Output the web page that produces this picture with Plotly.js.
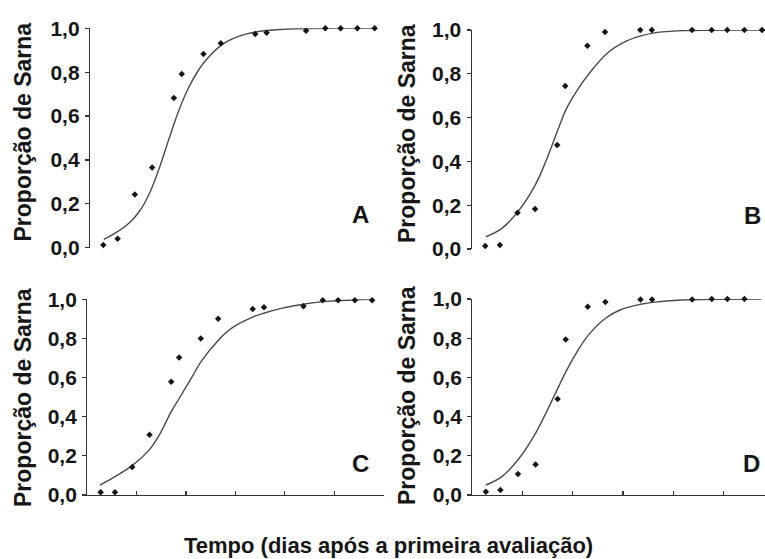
<!DOCTYPE html>
<html>
<head>
<meta charset="utf-8">
<script src="https://cdn.plot.ly/plotly-3.0.1.min.js"></script>
<style>html,body{margin:0;padding:0;background:#fff;}#chart{width:765px;height:559px;}</style>
</head>
<body>
<div id="chart"></div>
<script>
// Sampling times (days after first assessment)
const days = [2.7, 5.6, 9.1, 12.6, 17.0, 18.6, 23.0, 26.5, 33.5, 35.8, 43.8, 47.7, 50.8, 54.2, 57.7];
// Observed proportions of scab
const propA = [0.012, 0.041, 0.243, 0.366, 0.682, 0.792, 0.883, 0.932, 0.974, 0.980, 0.989, 1.0, 1.0, 1.0, 1.0];
const propB = [0.014, 0.018, 0.166, 0.183, 0.475, 0.744, 0.928, 0.991, 1.0, 1.0, 1.0, 1.0, 1.0, 1.0, 1.0];
const propC = [0.014, 0.014, 0.143, 0.308, 0.579, 0.702, 0.800, 0.900, 0.950, 0.959, 0.965, 0.995, 0.995, 0.995, 0.995];
const propD = [0.017, 0.026, 0.107, 0.156, 0.490, 0.793, 0.961, 0.985, 0.997, 0.997, 0.997, 1.0, 1.0, 1.0];
// Fitted curves
const curveDaysA = [2.8, 5, 8, 10, 12, 14, 16, 18, 20, 22, 24, 26, 28, 32, 36, 42, 50, 57.8];
const curveA = [0.038, 0.065, 0.114, 0.165, 0.245, 0.36, 0.495, 0.625, 0.73, 0.81, 0.868, 0.912, 0.943, 0.976, 0.99, 0.998, 1.0, 1.0];
const curveDaysB = [2.85, 6, 9.5, 12.8, 14.9, 17.4, 18.7, 20.9, 23.3, 27, 30.8, 33.8, 36.3, 41.8, 57.7];
const curveB = [0.056, 0.094, 0.18, 0.30, 0.41, 0.56, 0.635, 0.722, 0.80, 0.895, 0.95, 0.974, 0.987, 0.997, 1.0];
const curveDaysC = [2.55, 5.6, 9.1, 12.6, 14.6, 17, 18.7, 21.3, 23, 26.5, 29.4, 33.6, 35.9, 39.5, 43.8, 47.7, 57.7];
const curveC = [0.051, 0.094, 0.15, 0.232, 0.307, 0.426, 0.497, 0.607, 0.68, 0.79, 0.855, 0.91, 0.93, 0.955, 0.975, 0.988, 1.0];
const curveDaysD = [2.7, 5.9, 9.3, 12.7, 14.8, 17.1, 18.7, 20.8, 23.2, 26.6, 29.4, 33.5, 35.9, 41.6, 57.6];
const curveD = [0.051, 0.094, 0.186, 0.32, 0.425, 0.548, 0.632, 0.728, 0.818, 0.903, 0.944, 0.973, 0.983, 0.995, 1.0];
const yTicks = [0, 0.2, 0.4, 0.6, 0.8, 1.0];
const xTicks = [10, 20, 30, 40, 50, 60];
const panelLetters = ['A', 'B', 'C', 'D'];
const yTitle = 'Proporção de Sarna';
const xTitle = 'Tempo (dias após a primeira avaliação)';

const W = 765, H = 559;
const px = v => v / W;
const py = v => 1 - v / H;
const FONT = 'Liberation Sans, Arial, Helvetica, sans-serif';
const txt = '#161616';
const axc = '#333';

const panels = [
  {obsX: days, obsY: propA, cx: curveDaysA, cy: curveA, xd: [px(90), px(386)], xr: [0, 60], yd: [py(247.7), py(28.3)], xline: false},
  {obsX: days, obsY: propB, cx: curveDaysB, cy: curveB, xd: [px(471.7), 1], xr: [0, 58.3], yd: [py(249), py(30)], xline: false},
  {obsX: days, obsY: propC, cx: curveDaysC, cy: curveC, xd: [px(87.3), px(383.5)], xr: [0, 60], yd: [py(495), py(299.3)], xline: true},
  {obsX: days.slice(0, propD.length), obsY: propD, cx: curveDaysD, cy: curveD, xd: [px(472.3), 1], xr: [0, 58.3], yd: [py(495), py(299)], xline: true}
];

const traces = [];
const layout = {
  width: W, height: H,
  margin: {l: 0, r: 0, t: 0, b: 0},
  paper_bgcolor: '#fff', plot_bgcolor: '#fff',
  showlegend: false,
  separators: ',.',
  font: {family: FONT, color: txt},
  annotations: []
};

panels.forEach((p, i) => {
  const n = i === 0 ? '' : String(i + 1);
  const xa = 'x' + n, ya = 'y' + n;
  traces.push({
    x: p.cx, y: p.cy, xaxis: xa, yaxis: ya, type: 'scatter', mode: 'lines',
    line: {color: '#4a4a4a', width: 1.4, shape: 'spline', smoothing: 1},
    cliponaxis: false, hoverinfo: 'skip'
  });
  traces.push({
    x: p.obsX, y: p.obsY, xaxis: xa, yaxis: ya, type: 'scatter', mode: 'markers',
    marker: {symbol: 'diamond', size: 5, color: '#151515'},
    cliponaxis: false
  });
  layout['xaxis' + n] = {
    domain: p.xd, range: p.xr, anchor: ya,
    showgrid: false, zeroline: false,
    showline: p.xline, linecolor: axc, linewidth: 1.2,
    ticks: p.xline ? 'inside' : '', ticklen: 4, tickcolor: axc, tickwidth: 1.2,
    tickmode: 'array', tickvals: p.xline ? xTicks : [],
    showticklabels: false
  };
  layout['yaxis' + n] = {
    domain: p.yd, range: [0, 1], anchor: xa,
    showgrid: false, zeroline: false,
    showline: true, linecolor: axc, linewidth: 1.2,
    ticks: 'outside', ticklen: 4, tickcolor: axc, tickwidth: 1.2,
    tickmode: 'array', tickvals: yTicks, tickformat: '.1f',
    ticklabelstandoff: 1,
    tickfont: {family: FONT, size: 21, weight: 'bold', color: txt}
  };
});

const yTitlePos = [[23, 132.5], [407, 134], [23, 398], [407, 396]];
yTitlePos.forEach(([x, y]) => {
  layout.annotations.push({
    xref: 'paper', yref: 'paper', x: px(x), y: py(y), xanchor: 'center', yanchor: 'middle',
    text: yTitle, textangle: -90, showarrow: false,
    font: {family: FONT, size: 23, weight: 'bold', color: txt}
  });
});
const letterPos = [[360.5, 214], [752.5, 215.5], [360.5, 463], [751.5, 463.5]];
letterPos.forEach(([x, y], i) => {
  layout.annotations.push({
    xref: 'paper', yref: 'paper', x: px(x), y: py(y), xanchor: 'center', yanchor: 'middle',
    text: panelLetters[i], showarrow: false,
    font: {family: FONT, size: 24, weight: 'bold', color: txt}
  });
});
layout.annotations.push({
  xref: 'paper', yref: 'paper', x: px(388.5), y: py(545.5), xanchor: 'center', yanchor: 'middle',
  text: xTitle, showarrow: false,
  font: {family: FONT, size: 22, weight: 'bold', color: txt}
});

Plotly.newPlot('chart', traces, layout, {staticPlot: true, displayModeBar: false});
</script>
</body>
</html>
